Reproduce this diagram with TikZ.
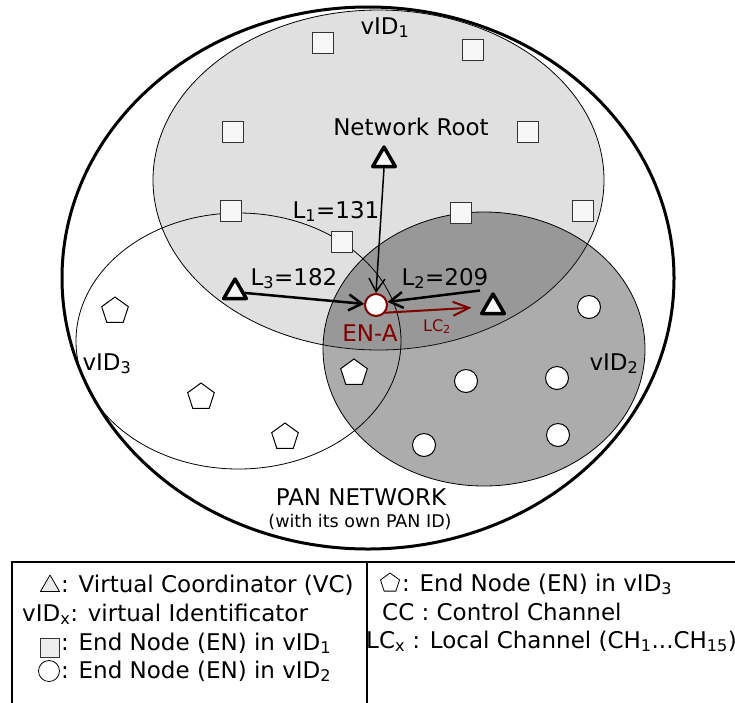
\documentclass[tikz,border=0pt]{standalone}
\usepackage{fontspec}
\setmainfont{DejaVu Sans}
\usetikzlibrary{shapes.geometric, arrows.meta, positioning}
\definecolor{enred}{RGB}{128,0,0}
\definecolor{vidone}{RGB}{224,224,224}
\begin{document}
\begin{tikzpicture}[
    x=1pt, y=-1pt,
    font=\fontsize{23}{28}\selectfont,
    vc/.style={draw, regular polygon, regular polygon sides=3, minimum size=26pt, inner sep=0pt, line width=3.5pt, line join=round, fill=black!3},
    sq/.style={draw=black!80, rectangle, minimum size=21pt, inner sep=0pt, line width=1.2pt, fill=black!3},
    en/.style={draw, circle, minimum size=23pt, inner sep=0pt, line width=1pt, fill=white},
    pent/.style={draw, regular polygon, regular polygon sides=5, minimum size=28pt, inner sep=0pt, line width=1pt, fill=white},
    legvc/.style={vc, minimum size=22pt, line width=0.8pt, fill=black!8},
    legsq/.style={sq, minimum size=19pt, line width=0.8pt, fill=black!7},
    legen/.style={en, minimum size=21pt, line width=0.8pt},
    legpent/.style={pent, minimum size=20pt, line width=0.8pt},
    lbl/.style={anchor=base},
    leg/.style={anchor=base west, inner sep=0pt},
    link/.style={-{Straight Barb[length=13pt, width=16pt]}, line width=2.5pt}
]
    \useasboundingbox (0,0) rectangle (735,702);

    % zones
    \draw[fill=vidone, line width=0.8pt] (378.5,180) ellipse [x radius=225.5pt, y radius=170pt];
    \draw[fill=black!84, fill opacity=0.39, line width=0.8pt] (484,349) ellipse [x radius=161pt, y radius=137pt];
    \draw[line width=0.8pt] (238.5,341) ellipse [x radius=162.5pt, y radius=128pt];
    \draw[line width=3pt] (368,278) ellipse [x radius=306pt, y radius=271pt];

    \node[lbl] (vid1) at (385,34) {vID\textsubscript{1}};
    \node[lbl] (vid2) at (614,370) {vID\textsubscript{2}};
    \node[lbl] (vid3) at (107,370) {vID\textsubscript{3}};
    \node[lbl] (pan) at (361,505) {PAN NETWORK};
    \node[lbl, font=\fontsize{17.5}{21}\selectfont] (panid) at (360,527) {(with its own PAN ID)};

    % end nodes
    \foreach \x/\y [count=\i] in {323/43, 473/50, 233/132, 528/132, 231/211, 461/213, 583/211, 342/242}
        \node[sq] (sq\i) at (\x,\y) {};
    \foreach \x/\y [count=\i] in {589/307, 466/381, 557/378, 424/445, 558/435}
        \node[en] (en\i) at (\x,\y) {};
    \foreach \x/\y [count=\i] in {115/311, 201/397, 285/437, 354/373}
        \node[pent] (pent\i) at (\x,\y) {};

    % coordinators
    \node[vc] (root) at (384,160) {};
    \node[vc] (vcthree) at (235,292) {};
    \node[vc] (vctwo) at (493,307) {};
    \node[en, draw=enred, line width=2pt, minimum size=22pt] (ena) at (376,305) {};

    \node[lbl] (rootlbl) at (411,135) {Network Root};
    \node[lbl] (lone) at (336,218) {L\textsubscript{1}=131};
    \node[lbl] (lthree) at (294,285) {L\textsubscript{3}=182};
    \node[lbl] (ltwo) at (445,285) {L\textsubscript{2}=209};
    \node[lbl, text=enred] (enalbl) at (370,341) {EN-A};
    \node[lbl, text=enred, font=\fontsize{16}{19}\selectfont] (lclbl) at (437,331) {LC\textsubscript{2}};

    \draw[link, line width=1.5pt] (root.south) -- (ena.north);
    \draw[link] (vcthree) -- (ena);
    \draw[link] ([xshift=-13pt]vctwo.north) -- (ena.15);
    \draw[-{Straight Barb[length=16pt, width=14pt]}, draw=enred, line width=2pt, shorten >=12pt] (ena.-40) -- (vctwo.west);

    % legend
    \draw[line width=2pt] (12,712) -- (12,562) -- (745,562);
    \draw[line width=1.5pt] (367,562) -- (367,712);
    \node[legvc] (kvc) at (50,586) {};
    \node[leg] (tvc) at (61,592) {: Virtual Coordinator (VC)};
    \node[leg] (tvid) at (22,621) {vID\textsubscript{x}: virtual Identificator};
    \node[legsq] (ksq) at (50,648) {};
    \node[leg] (tsq) at (61,650) {: End Node (EN) in vID\textsubscript{1}};
    \node[legen] (ken) at (49,671) {};
    \node[leg] (ten) at (61,678) {: End Node (EN) in vID\textsubscript{2}};
    \node[legpent] (kpent) at (390,583) {};
    \node[leg] (tpent) at (402,591) {: End Node (EN) in vID\textsubscript{3}};
    \node[leg] (tcc) at (382,620) {CC : Control Channel};
    \node[leg] (tlc) at (366,648) {LC\textsubscript{x} : Local Channel (CH\textsubscript{1}...CH\textsubscript{15})};

\end{tikzpicture}
\end{document}
